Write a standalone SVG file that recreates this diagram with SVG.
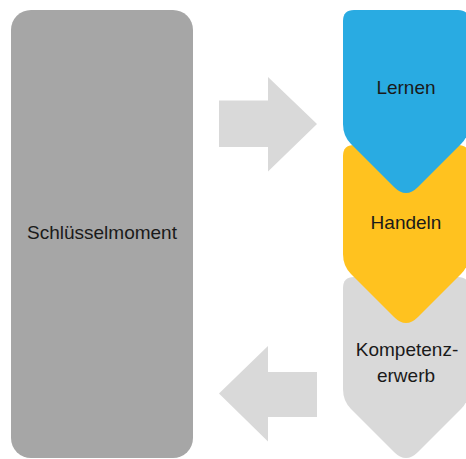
<svg xmlns="http://www.w3.org/2000/svg" width="466" height="459" viewBox="0 0 466 459">
  <style>
    .lbl { font-family: "Liberation Sans", Arial, sans-serif; font-size: 19px; fill: #1a1a1a; text-anchor: middle; }
    .arrow { fill: #D9D9D9; }
  </style>
  <rect width="466" height="459" fill="#ffffff"/>
  <g id="schluesselmoment">
    <rect x="11" y="10" width="182" height="448" rx="20" ry="20" fill="#A6A6A6"/>
    <text class="lbl" x="102" y="238.5">Schlüsselmoment</text>
  </g>
  <g id="connectors">
    <polygon class="arrow" points="219,100.5 268,100.5 268,77 317,124 268,171.5 268,147 219,147"/>
    <polygon class="arrow" points="317,372 268,372 268,346 219,393.5 268,441.5 268,417 317,417"/>
  </g>
  <g id="kompetenzerwerb">
    <path fill="#D9D9D9" d="M354,277 L458,277 Q469,277 469,288 L469,389 Q469,401 461,409 L418,452 Q406,464 394,452 L351,409 Q343,401 343,389 L343,288 Q343,277 354,277 Z"/>
    <text class="lbl" x="407" y="355.5">Kompetenz-</text>
    <text class="lbl" x="406" y="381.5">erwerb</text>
  </g>
  <g id="handeln">
    <path fill="#FFC21F" d="M354,145 L458,145 Q469,145 469,156 L469,254 Q469,266 461,274 L418,317 Q406,329 394,317 L351,274 Q343,266 343,254 L343,156 Q343,145 354,145 Z"/>
    <text class="lbl" x="406" y="228.8">Handeln</text>
  </g>
  <g id="lernen">
    <path fill="#29ABE2" d="M354,10 L458,10 Q469,10 469,21 L469,124 Q469,136 461,144 L418,187 Q406,199 394,187 L351,144 Q343,136 343,124 L343,21 Q343,10 354,10 Z"/>
    <text class="lbl" x="406" y="94">Lernen</text>
  </g>
</svg>
